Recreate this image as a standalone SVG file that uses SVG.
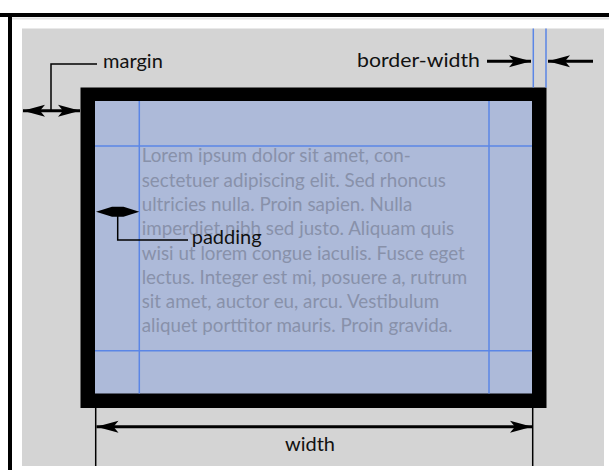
<svg xmlns="http://www.w3.org/2000/svg" width="609" height="470" viewBox="0 0 609 470">
<style>
.lbl{font-family:Lato,"Open Sans","Liberation Sans",sans-serif;font-size:20px;fill:#111}
.lorem{font-family:Lato,"Open Sans","Liberation Sans",sans-serif;font-size:18.8px;fill:#8891aa}
.guide{stroke:#5b86e6;stroke-width:1.5;fill:none}
.lead{stroke:#000;stroke-width:1.5;fill:none}
.arr{stroke:#000;stroke-width:3;fill:none}
</style>
<defs>
<marker id="ah" markerUnits="userSpaceOnUse" markerWidth="24" markerHeight="14" viewBox="-23 -7 24 14" refX="0" refY="0" orient="auto-start-reverse">
<path d="M0,0 L-22,-6 L-17,0 L-22,6 Z" fill="#000"/>
</marker>
</defs>
<rect width="609" height="470" fill="#fff"/>
<g id="frame">
<line x1="0" y1="15" x2="609" y2="15" stroke="#000" stroke-width="4"/>
<line x1="12" y1="18.5" x2="609" y2="18.5" stroke="#e2e2e2" stroke-width="2"/>
<line x1="10" y1="13" x2="10" y2="470" stroke="#000" stroke-width="4"/>
<rect x="22" y="28.5" width="582" height="437.5" fill="#d4d4d4"/>
</g>
<g id="box">
<rect x="80.5" y="87.5" width="466" height="320.5" fill="#000"/>
<rect x="95" y="101" width="437" height="292.5" fill="#adbad9"/>
<line class="guide" x1="139.3" y1="101" x2="139.3" y2="393.5"/>
<line class="guide" x1="489" y1="101" x2="489" y2="393.5"/>
<line class="guide" x1="95" y1="146" x2="532" y2="146"/>
<line class="guide" x1="95" y1="350.7" x2="532" y2="350.7"/>
<line class="guide" x1="533.3" y1="28.5" x2="533.3" y2="87.5"/>
<line class="guide" x1="546" y1="28.5" x2="546" y2="87.5"/>
</g>
<g id="content">
<text class="lorem" x="141.7" y="162.3">Lorem ipsum dolor sit amet, con-</text>
<text class="lorem" x="141.7" y="186.6">sectetuer adipiscing elit. Sed rhoncus</text>
<text class="lorem" x="141.7" y="210.9">ultricies nulla. Proin sapien. Nulla</text>
<text class="lorem" x="141.7" y="235.2">imperdiet nibh sed justo. Aliquam quis</text>
<text class="lorem" x="141.7" y="259.5">wisi ut lorem congue iaculis. Fusce eget</text>
<text class="lorem" x="141.7" y="283.8">lectus. Integer est mi, posuere a, rutrum</text>
<text class="lorem" x="141.7" y="308.1">sit amet, auctor eu, arcu. Vestibulum</text>
<text class="lorem" x="141.7" y="332.4">aliquet porttitor mauris. Proin gravida.</text>
</g>
<g id="connectors">
<line class="arr" x1="23" y1="110.7" x2="80" y2="110.7" marker-start="url(#ah)" marker-end="url(#ah)"/>
<polyline class="lead" points="97,64 51,64 51,110.7"/>
<line class="arr" x1="487" y1="61.3" x2="531" y2="61.3" marker-end="url(#ah)"/>
<line class="arr" x1="593" y1="61.3" x2="548" y2="61.3" marker-end="url(#ah)"/>
<path d="M96,211.7 L112,206.7 L123.5,206.7 L139.3,211.7 L123.5,216.7 L112,216.7 Z" fill="#000"/>
<polyline class="lead" points="117.7,211.7 117.7,240 188,240"/>
<line class="lead" x1="95.7" y1="408" x2="95.7" y2="466"/>
<line class="lead" x1="532.7" y1="408" x2="532.7" y2="466"/>
<line class="arr" x1="96.5" y1="426.7" x2="532" y2="426.7" marker-start="url(#ah)" marker-end="url(#ah)"/>
</g>
<g id="labels">
<text class="lbl" x="103" y="68">margin</text>
<text class="lbl" x="357" y="67" textLength="123" lengthAdjust="spacingAndGlyphs">border-width</text>
<text class="lbl" x="191.7" y="243.5">padding</text>
<text class="lbl" x="310" y="451" text-anchor="middle">width</text>
</g>
</svg>
